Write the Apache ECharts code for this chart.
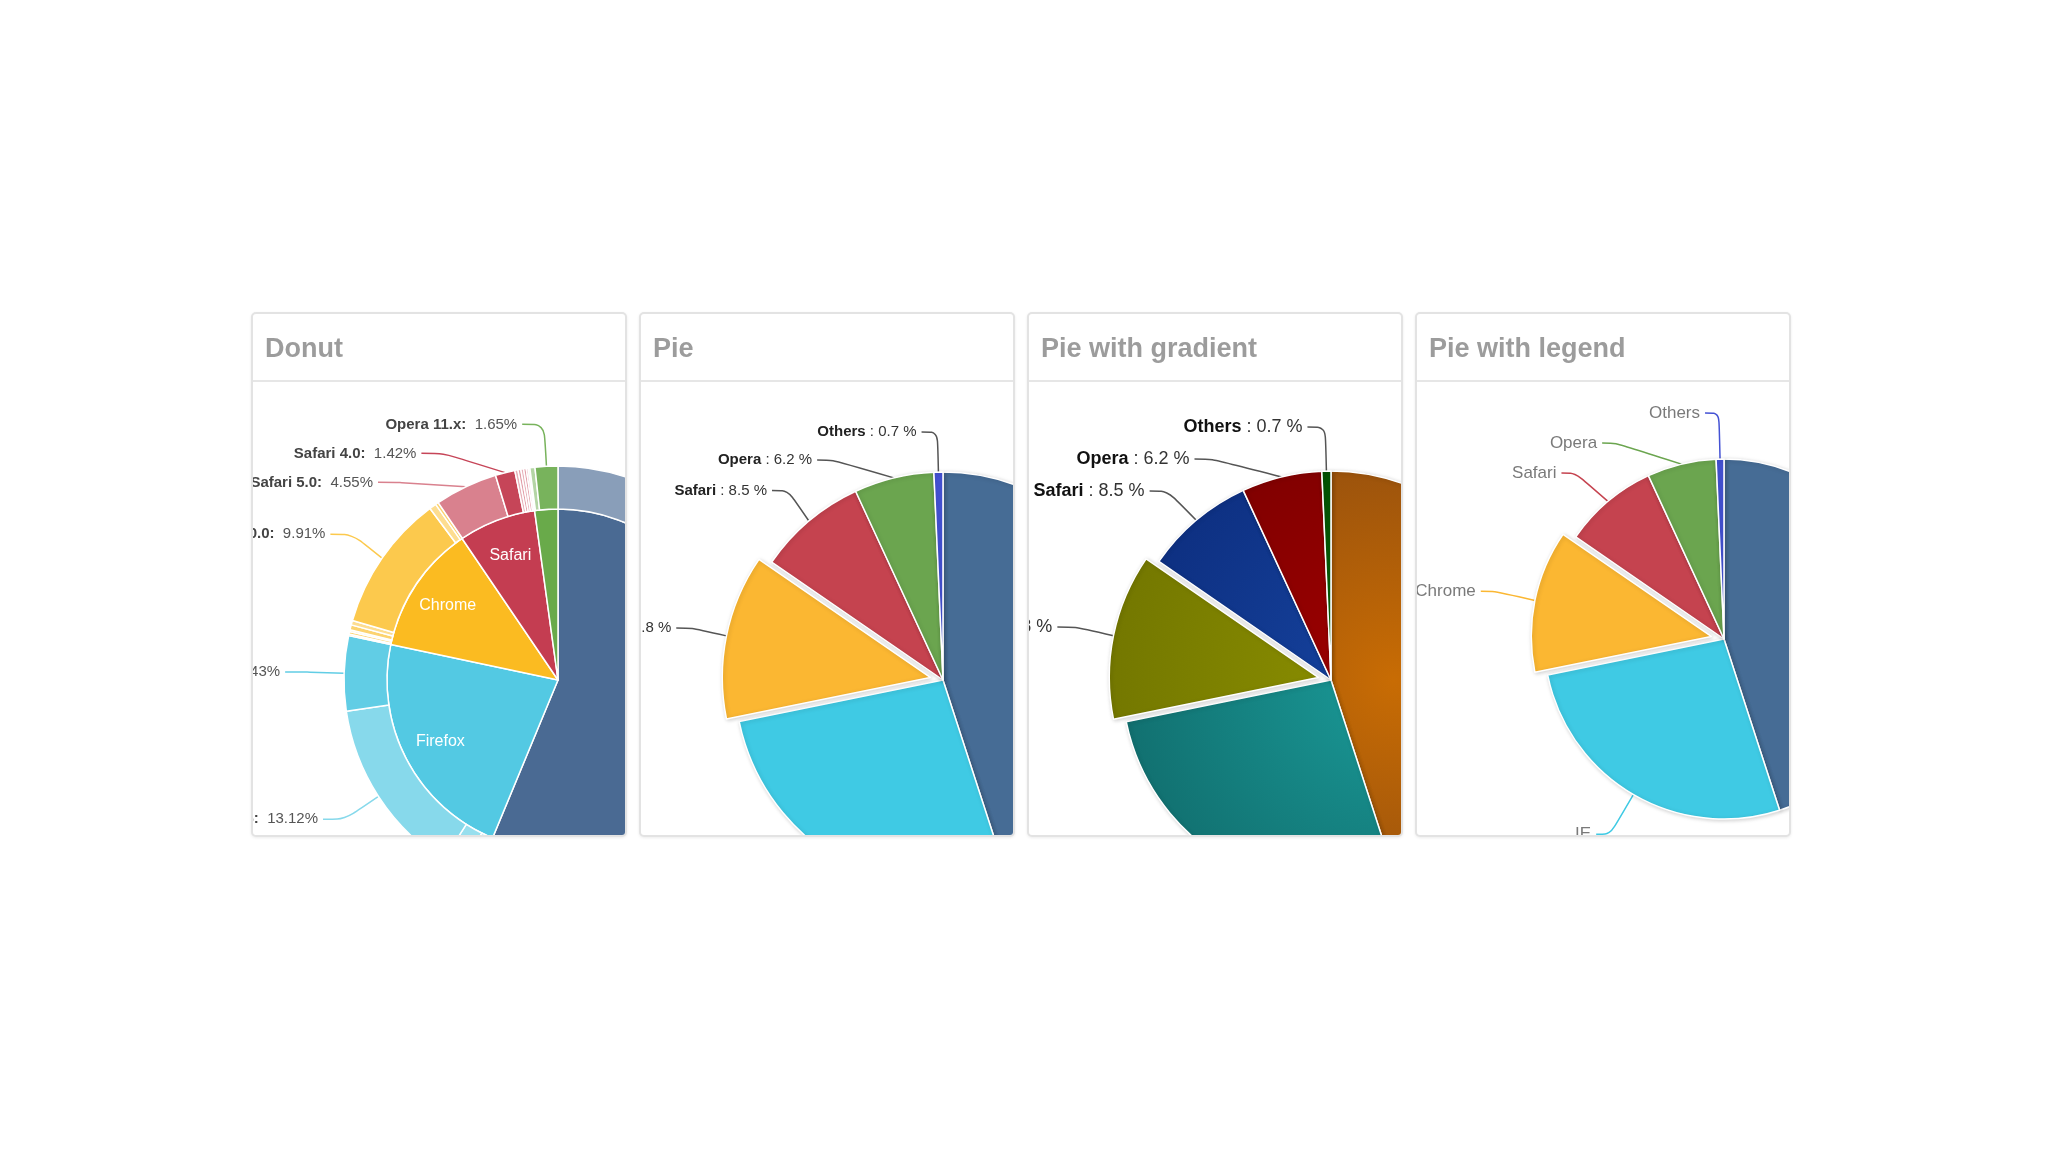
<!DOCTYPE html>
<html><head><meta charset="utf-8">
<script src="https://cdn.jsdelivr.net/npm/echarts@6/dist/echarts.min.js"></script>
<style>
html,body{margin:0;padding:0;background:#fff;width:2048px;height:1152px;overflow:hidden;}
.panel{position:absolute;top:312px;width:376px;height:525px;box-sizing:border-box;border:2px solid #e3e3e3;border-radius:5px;background:#fff;box-shadow:0 1px 3px rgba(0,0,0,0.08);overflow:hidden;}
.chart{position:absolute;left:0;top:0;width:372px;height:521px;}
</style></head><body>
<div class="panel" style="left:251px"><div class="chart" id="c0"></div></div>
<div class="panel" style="left:639px"><div class="chart" id="c1"></div></div>
<div class="panel" style="left:1027px"><div class="chart" id="c2"></div></div>
<div class="panel" style="left:1415px"><div class="chart" id="c3"></div></div>
<script>
// ---------- data ----------
const panelTitles = ['Donut', 'Pie', 'Pie with gradient', 'Pie with legend'];

// Donut: browser market share (inner) and versions (outer)
const browserNames = ['MSIE', 'Firefox', 'Chrome', 'Safari', 'Opera'];
const browserShares = [55.11, 21.63, 11.94, 7.15, 2.14];
const msieVersions = ['MSIE 6.0', 'MSIE 7.0', 'MSIE 8.0', 'MSIE 9.0'];
const msieShares = [10.85, 7.35, 33.06, 2.81];
const firefoxVersions = ['Firefox 2.0', 'Firefox 3.0', 'Firefox 3.5', 'Firefox 3.6', 'Firefox 4.0'];
const firefoxShares = [0.20, 0.83, 1.58, 13.12, 5.43];
const chromeVersions = ['Chrome 5.0', 'Chrome 6.0', 'Chrome 7.0', 'Chrome 8.0', 'Chrome 9.0', 'Chrome 10.0', 'Chrome 11.0', 'Chrome 12.0'];
const chromeShares = [0.12, 0.19, 0.12, 0.36, 0.32, 9.91, 0.50, 0.22];
const safariVersions = ['Safari 5.0', 'Safari 4.0', 'Safari Win 5.0', 'Safari 4.1', 'Safari/Maxthon', 'Safari 3.1', 'Safari 4.1 '];
const safariShares = [4.55, 1.42, 0.23, 0.21, 0.20, 0.19, 0.14];
const operaVersions = ['Opera 9.x', 'Opera 10.x', 'Opera 11.x'];
const operaShares = [0.12, 0.37, 1.65];

// Pies
const pieNames = ['Firefox', 'IE', 'Chrome', 'Safari', 'Opera', 'Others'];
const pieShares = [45.0, 26.8, 12.8, 8.5, 6.2, 0.7];
const slicedName = 'Chrome';

// ---------- styles ----------
const FONT = '"Liberation Sans", Arial, Helvetica, sans-serif';
const donutColors = ['#4a6a93', '#53c9e3', '#fbbb21', '#c43d51', '#69aa4a'];
const versionTints = [
  [0.35, 0.25, 0.15, 0.3],
  [0.45, 0.35, 0.4, 0.3, 0.08],
  [0.5, 0.35, 0.5, 0.35, 0.5, 0.2, 0.5, 0.35],
  [0.35, 0.04, 0.6, 0.5, 0.6, 0.5, 0.6],
  [0.6, 0.5, 0.1]
];
const pieColors = ['#466c95', '#3fcae4', '#fbb732', '#c5434f', '#6ba54f', '#4452d4'];
const gradientStops = [
  ['#c86c04', '#884810'],
  ['#1a9a98', '#106a6a'],
  ['#8c9000', '#707400'],
  ['#1644a0', '#0c2c7c'],
  ['#a00000', '#780000'],
  ['#0a6a0a', '#004800']
];

function tint(hex, t) {
  const n = parseInt(hex.slice(1), 16);
  const r = n >> 16, g = (n >> 8) & 255, b = n & 255;
  const m = c => Math.round(c + (255 - c) * t);
  return 'rgb(' + m(r) + ',' + m(g) + ',' + m(b) + ')';
}

// series layout box larger than the canvas so labels are not truncated (canvas clips like the panel)
const BOX = {left: -300, top: -200, width: 1000, height: 1200};
function boxed(cx, cy) {
  return {left: BOX.left, top: BOX.top, width: BOX.width, height: BOX.height,
          center: [cx - BOX.left, cy - BOX.top]};
}

function baseOption(title) {
  return {
    animation: false,
    title: {text: title, left: 12, top: 22, padding: 0,
      textStyle: {fontFamily: FONT, fontSize: 27, fontWeight: 'bold', color: '#9c9c9c'}},
    graphic: [{type: 'line', silent: true, shape: {x1: 0, y1: 67, x2: 372, y2: 67},
      style: {stroke: '#e6e6e6', lineWidth: 2}}],
    series: []
  };
}

// ---------- Donut ----------
(function () {
  const opt = baseOption(panelTitles[0]);
  const groups = [
    [msieVersions, msieShares], [firefoxVersions, firefoxShares], [chromeVersions, chromeShares],
    [safariVersions, safariShares], [operaVersions, operaShares]
  ];
  const cx = 305, cy = 366, rIn = 171, rOut = 214;
  const innerData = browserNames.map((n, i) => ({name: n, value: browserShares[i], itemStyle: {color: donutColors[i]}}));
  const outerData = [];
  groups.forEach((g, i) => {
    g[0].forEach((n, j) => {
      const v = g[1][j];
      outerData.push({name: n, value: v, itemStyle: {color: tint(donutColors[i], versionTints[i][j])},
        label: {show: v > 1}, labelLine: {show: v > 1}});
    });
  });
  opt.series.push({
    type: 'pie', ...boxed(cx, cy), radius: [0, rIn], silent: true, z: 2,
    data: innerData, label: {show: false}, labelLine: {show: false},
    itemStyle: {borderColor: '#fff', borderWidth: 1.5}
  });
  opt.series.push({
    type: 'pie', ...boxed(cx, cy), radius: [rIn * 0.52, rIn], silent: true, z: 3,
    data: browserNames.map((n, i) => ({name: n, value: browserShares[i], label: {show: browserShares[i] > 5}})),
    itemStyle: {color: 'rgba(0,0,0,0)', borderWidth: 0},
    label: {position: 'inside', formatter: '{b}', color: '#fff', fontSize: 16, fontFamily: FONT},
    labelLine: {show: false}
  });
  opt.series.push({
    type: 'pie', ...boxed(cx, cy), radius: [rIn, rOut], silent: true, z: 2,
    data: outerData,
    itemStyle: {borderColor: '#fff', borderWidth: 1.5},
    label: {formatter: '{n|{b}:}  {c}%', color: '#555', fontSize: 15, lineHeight: 27, fontFamily: FONT,
      rich: {n: {fontWeight: 'bold', color: '#444', fontSize: 15, lineHeight: 27, fontFamily: FONT}}},
    labelLine: {length: 42, length2: 22, smooth: 0.3, lineStyle: {width: 1.5}}
  });
  echarts.init(document.getElementById('c0')).setOption(opt);
})();

// ---------- Pies ----------
function pieOption(idx, cx, cy, r, colorFn, labelCfg, lineCfg) {
  const opt = baseOption(panelTitles[idx]);
  opt.series.push({
    type: 'pie', ...boxed(cx, cy), radius: [0, r], silent: true,
    selectedMode: 'single', selectedOffset: 13,
    data: pieNames.map((n, i) => ({name: n, value: pieShares[i], selected: n === slicedName,
      itemStyle: {color: colorFn(i)}})),
    itemStyle: {borderColor: '#fff', borderWidth: 1.5, shadowBlur: 4, shadowColor: 'rgba(0,0,0,0.18)',
      shadowOffsetX: 1, shadowOffsetY: 1},
    label: labelCfg, labelLine: lineCfg
  });
  return opt;
}

(function () {
  const opt = pieOption(1, 302, 366, 208, i => pieColors[i],
    {formatter: '{n|{b}} : {c} %', color: '#333', fontSize: 15, lineHeight: 26, fontFamily: FONT,
      rich: {n: {fontWeight: 'bold', color: '#222', fontSize: 15, lineHeight: 26, fontFamily: FONT}}},
    {length: 40, length2: 16, smooth: 0.3, lineStyle: {color: '#555', width: 1.5}});
  echarts.init(document.getElementById('c1')).setOption(opt);
})();

(function () {
  const cx = 302, cy = 366, r = 209;
  const opt = pieOption(2, cx, cy, r, i => new echarts.graphic.RadialGradient(
      cx + r * 0.3, cy, r * 1.5,
      [{offset: 0, color: gradientStops[i][0]}, {offset: 1, color: gradientStops[i][1]}], true),
    {formatter: '{n|{b}} : {c} %', color: '#333', fontSize: 18, lineHeight: 30, fontFamily: FONT,
      rich: {n: {fontWeight: 'bold', color: '#111', fontSize: 18, lineHeight: 30, fontFamily: FONT}}},
    {length: 44, length2: 18, smooth: 0.3, lineStyle: {color: '#555', width: 1.5}});
  echarts.init(document.getElementById('c2')).setOption(opt);
})();

(function () {
  const opt = pieOption(3, 307, 325, 180, i => pieColors[i],
    {formatter: '{b}', color: '#7a7a7a', fontSize: 17, lineHeight: 28, fontFamily: FONT},
    {length: 46, length2: 14, smooth: 0.3, lineStyle: {width: 1.5}});
  echarts.init(document.getElementById('c3')).setOption(opt);
})();
</script>
</body></html>
